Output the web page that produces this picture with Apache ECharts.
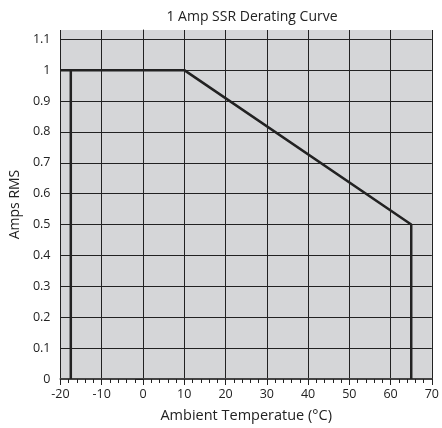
<!DOCTYPE html>
<html>
<head>
<meta charset="utf-8">
<script src="https://cdn.jsdelivr.net/npm/echarts@6/dist/echarts.min.js"></script>
<style>
  html, body { margin: 0; padding: 0; background: #fff; }
  #chart { width: 442px; height: 428px; }
</style>
</head>
<body>
<div id="chart"></div>
<script>
// derating curve
const curvePoints = [[-20, 1], [10, 1], [65, 0.5], [65, 0]]
const leftEdge = [[-17.5, 0], [-17.5, 1]]
const yTicks = [0, 0.1, 0.2, 0.3, 0.4, 0.5, 0.6, 0.7, 0.8, 0.9, 1, 1.1]

const myChart = echarts.init(document.getElementById('chart'))
const ink = '#222'
const font = 'Open Sans'

const option = {
  animation: false,
  title: {
    text: '1 Amp SSR Derating Curve',
    left: 247,
    textAlign: 'center',
    top: 5,
    textStyle: { fontFamily: font, fontSize: 14, fontWeight: 'normal', color: ink }
  },
  grid: {
    left: 60, right: 8, top: 30, bottom: 45,
    show: true, backgroundColor: '#d5d6d8', borderWidth: 0
  },
  xAxis: {
    type: 'value',
    min: -20, max: 70, interval: 10,
    name: 'Ambient Temperatue (°C)',
    nameLocation: 'middle',
    nameGap: 29,
    nameTextStyle: { fontFamily: font, fontSize: 14.5, color: ink },
    axisLine: { lineStyle: { color: '#444', width: 2 } },
    axisTick: { length: 6, lineStyle: { color: ink } },
    minorTick: { show: true, splitNumber: 5, length: 4, lineStyle: { color: ink } },
    axisLabel: { fontFamily: font, fontSize: 12.5, color: ink, margin: 9 },
    splitLine: { show: true, lineStyle: { color: ink, width: 1 } }
  },
  yAxis: {
    type: 'value',
    min: 0, max: 1.13, interval: 0.1,
    name: 'Amps RMS',
    nameLocation: 'middle',
    nameGap: 38,
    nameTextStyle: { fontFamily: font, fontSize: 14, color: ink },
    axisLine: { show: true, lineStyle: { color: ink, width: 1 } },
    axisTick: { show: true, length: 7, customValues: yTicks, lineStyle: { color: ink } },
    axisLabel: {
      fontFamily: font, fontSize: 12.5, color: ink, margin: 10,
      customValues: yTicks,
      formatter: v => String(+v.toFixed(2))
    },
    splitLine: { show: true, lineStyle: { color: ink, width: 1 } }
  },
  series: [
    {
      type: 'line',
      data: curvePoints,
      symbol: 'none',
      lineStyle: { color: ink, width: 2.5 }
    },
    {
      type: 'line',
      data: leftEdge,
      symbol: 'none',
      lineStyle: { color: ink, width: 2.5 }
    }
  ]
}
myChart.setOption(option)
</script>
</body>
</html>
